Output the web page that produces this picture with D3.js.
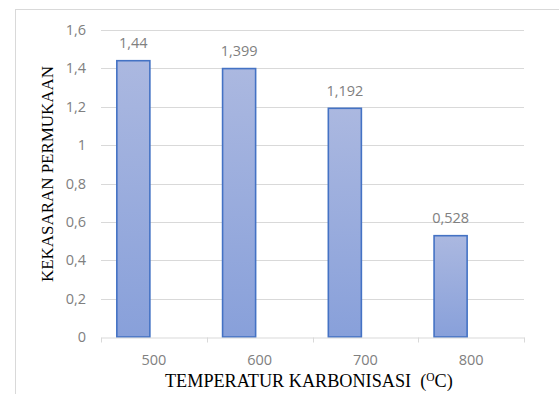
<!DOCTYPE html>
<html>
<head>
<meta charset="utf-8">
<script src="https://cdn.jsdelivr.net/npm/d3@7"></script>
<style>
  html, body { margin: 0; padding: 0; background: #fff; }
  svg { display: block; }
</style>
</head>
<body>
<svg id="chart" width="559" height="394"></svg>
<script>
const categories = ["500", "600", "700", "800"];
const values = [1.44, 1.399, 1.192, 0.528];
const valueLabels = ["1,44", "1,399", "1,192", "0,528"];
const yTicks = [0, 0.2, 0.4, 0.6, 0.8, 1, 1.2, 1.4, 1.6];
const yTitle = "KEKASARAN  PERMUKAAN";
const xTitle = "TEMPERATUR KARBONISASI\u00a0\u00a0(";

const svg = d3.select("#chart");
const W = 559, H = 394;
const plot = { left: 101, right: 524, top: 30, bottom: 337 };

// chart area border
svg.append("rect")
  .attr("x", 15.5).attr("y", 9.5)
  .attr("width", W).attr("height", H)
  .attr("fill", "#fff").attr("stroke", "#d9d9d9").attr("stroke-width", 1);

const x = d3.scaleBand().domain(categories).range([plot.left, plot.right]).padding(0);
const sub = d3.scaleBand().domain(["s1", "s2"]).range([0, x.bandwidth()]).paddingInner(0).paddingOuter(0.6);
const y = d3.scaleLinear().domain([0, 1.6]).range([plot.bottom, plot.top]);

const fmt = d => d3.format(".1f")(d).replace(".", ",").replace(/,0$/, "");

// gridlines
svg.append("g").selectAll("line")
  .data(yTicks.filter(d => d > 0))
  .join("line")
  .attr("x1", plot.left).attr("x2", plot.right)
  .attr("y1", d => Math.round(y(d)) + 0.5).attr("y2", d => Math.round(y(d)) + 0.5)
  .attr("stroke", "#d9d9d9").attr("stroke-width", 1);

// y tick labels
svg.append("g").selectAll("text")
  .data(yTicks)
  .join("text")
  .attr("x", plot.left - 15)
  .attr("y", d => y(d) + 5)
  .attr("text-anchor", "end")
  .attr("font-family", "'Open Sans', sans-serif")
  .attr("font-size", 14.5)
  .attr("fill", "#808080")
  .text(fmt);

// gradient
const defs = svg.append("defs");
const grad = defs.append("linearGradient").attr("id", "barGrad")
  .attr("x1", 0).attr("y1", 0).attr("x2", 0).attr("y2", 1);
grad.append("stop").attr("offset", "0%").attr("stop-color", "#abb8e0");
grad.append("stop").attr("offset", "100%").attr("stop-color", "#88a0da");

const barX = i => x(categories[i]) + sub("s1") - 4;

// bars
svg.append("g").selectAll("rect")
  .data(values)
  .join("rect")
  .attr("x", (d, i) => barX(i))
  .attr("width", sub.bandwidth())
  .attr("y", d => y(d))
  .attr("height", d => y(0) - y(d))
  .attr("fill", "url(#barGrad)")
  .attr("stroke", "#4472c4")
  .attr("stroke-width", 1.6);

// value labels
svg.append("g").selectAll("text")
  .data(values)
  .join("text")
  .attr("x", (d, i) => barX(i) + sub.bandwidth() / 2)
  .attr("y", d => y(d) - 12.5)
  .attr("text-anchor", "middle")
  .attr("font-family", "'Open Sans', sans-serif")
  .attr("font-size", 14.5)
  .attr("fill", "#808080")
  .text((d, i) => valueLabels[i]);

// x axis
const xAxis = d3.axisBottom(x).tickSize(0).tickFormat("");
const gx = svg.append("g").attr("transform", `translate(0,${Math.round(plot.bottom) + 0.5})`).call(xAxis);
gx.select(".domain").attr("stroke", "#d9d9d9");
const boundaries = categories.map(c => x(c)).concat([plot.right]);
gx.selectAll(".bnd").data(boundaries).join("line")
  .attr("class", "bnd")
  .attr("x1", d => Math.round(d) + 0.5).attr("x2", d => Math.round(d) + 0.5)
  .attr("y1", 0).attr("y2", 5)
  .attr("stroke", "#d9d9d9");

svg.append("g").selectAll("text")
  .data(categories)
  .join("text")
  .attr("x", d => x(d) + x.bandwidth() / 2)
  .attr("y", 365)
  .attr("text-anchor", "middle")
  .attr("font-family", "'Open Sans', sans-serif")
  .attr("font-size", 14.5)
  .attr("fill", "#808080")
  .text(d => d);

// y title
svg.append("text")
  .attr("transform", "translate(53,174) rotate(-90)")
  .attr("text-anchor", "middle")
  .attr("font-family", "'Liberation Serif', 'Times New Roman', serif")
  .attr("font-size", 17)
  .attr("fill", "#000")
  .attr("textLength", 216)
  .attr("lengthAdjust", "spacingAndGlyphs")
  .text(yTitle);

// x title
const xt = svg.append("text")
  .attr("x", 165)
  .attr("y", 387)
  .attr("font-family", "'Liberation Serif', 'Times New Roman', serif")
  .attr("font-size", 18.2)
  .attr("fill", "#000");
xt.append("tspan").text(xTitle);
xt.append("tspan").attr("font-size", 11.5).attr("dy", -6).text("O");
xt.append("tspan").attr("dy", 6).text("C)");
</script>
</body>
</html>
